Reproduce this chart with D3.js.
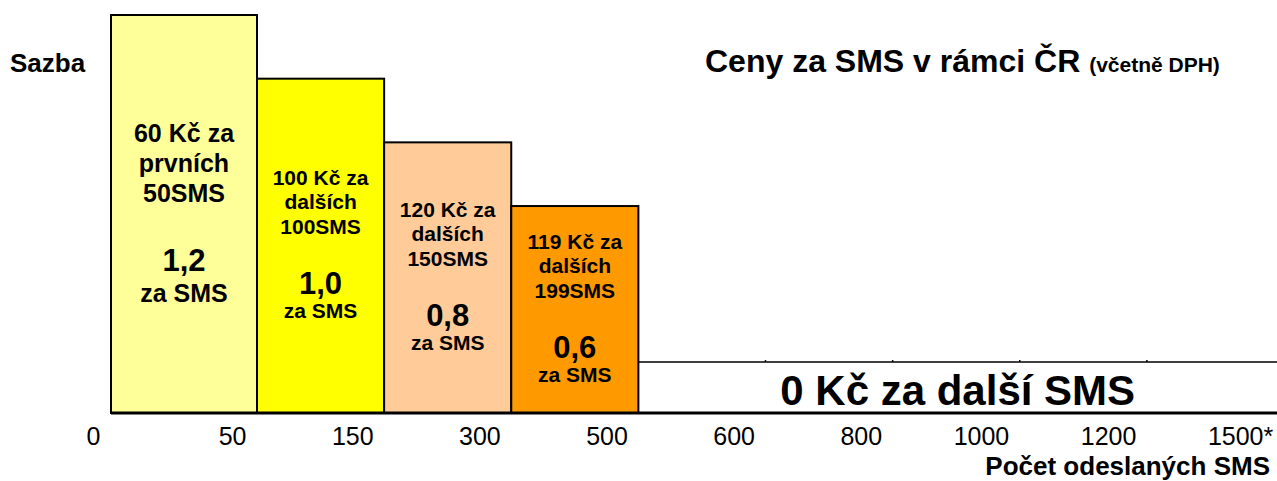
<!DOCTYPE html>
<html>
<head>
<meta charset="utf-8">
<script src="https://cdn.jsdelivr.net/npm/d3@7"></script>
<style>
  body { margin: 0; background: #fff; }
  svg { display: block; font-family: "Liberation Sans", Arial, sans-serif; }
</style>
</head>
<body>
<svg id="chart"></svg>
<script>
// data
const tickLabels = ["0", "50", "150", "300", "500", "600", "800", "1000", "1200", "1500*"];
const rates = [1.2, 1.0, 0.8, 0.6];
const rateLabels = ["1,2", "1,0", "0,8", "0,6"];
const priceLines = [
  ["60 Kč za", "prvních", "50SMS"],
  ["100 Kč za", "dalších", "100SMS"],
  ["120 Kč za", "dalších", "150SMS"],
  ["119 Kč za", "dalších", "199SMS"]
];
const barColors = ["#FFFF99", "#FFFF00", "#FFCC99", "#FF9900"];
const freeBand = 0.11; // visual height of the "0 Kč" band
const freeLabel = "0 Kč za další SMS";

const width = 1277, height = 481;
const svg = d3.select("#chart").attr("width", width).attr("height", height);

// first band is wider than the others
const x = d3.scaleLinear().domain([0, 1, 9]).range([111, 257, 1274]);
const y = d3.scaleLinear().domain([-0.05, 1.2]).range([413, 15]);

// tiered bars
const bars = svg.selectAll("g.tier")
  .data(rates)
  .enter()
  .append("g")
  .attr("class", "tier");

bars.append("rect")
  .attr("x", (d, i) => x(i))
  .attr("y", (d) => y(d))
  .attr("width", (d, i) => x(i + 1) - x(i))
  .attr("height", (d) => y(-0.05) - y(d))
  .attr("fill", (d, i) => barColors[i])
  .attr("stroke", "#000")
  .attr("stroke-width", 2);

// text inside bars, centred vertically in each bar
bars.each(function (d, i) {
  const g = d3.select(this);
  const cx = (x(i) + x(i + 1)) / 2;
  const cy = (y(d) + y(-0.05)) / 2;
  const big = i == 0;
  const fs = big ? 25 : 21;
  const offs = big ? [-72, -42, -12] : [-61, -37, -12];
  priceLines[i].forEach((t, k) => {
    g.append("text")
      .attr("x", cx)
      .attr("y", cy + offs[k])
      .attr("text-anchor", "middle")
      .attr("font-weight", "bold")
      .attr("font-size", fs)
      .text(t);
  });
  g.append("text")
    .attr("x", cx)
    .attr("y", cy + (big ? 57 : 48))
    .attr("text-anchor", "middle")
    .attr("font-weight", "bold")
    .attr("font-size", 31)
    .text(rateLabels[i]);
  g.append("text")
    .attr("x", cx)
    .attr("y", cy + (big ? 88 : 72))
    .attr("text-anchor", "middle")
    .attr("font-weight", "bold")
    .attr("font-size", fs)
    .text("za SMS");
});

// free band
svg.append("line")
  .attr("x1", x(4))
  .attr("x2", width)
  .attr("y1", y(freeBand))
  .attr("y2", y(freeBand))
  .attr("stroke", "#000")
  .attr("stroke-width", 1.5);

svg.selectAll("line.mini")
  .data(d3.range(5, 9))
  .enter()
  .append("line")
  .attr("class", "mini")
  .attr("x1", (d) => x(d))
  .attr("x2", (d) => x(d))
  .attr("y1", y(freeBand) - 2)
  .attr("y2", y(freeBand))
  .attr("stroke", "#000")
  .attr("stroke-width", 1.5);

svg.append("text")
  .attr("x", (x(4) + width) / 2)
  .attr("y", 405)
  .attr("text-anchor", "middle")
  .attr("font-weight", "bold")
  .attr("font-size", 42)
  .text(freeLabel);

// x axis
const xAxis = d3.axisBottom(x)
  .tickValues(d3.range(tickLabels.length))
  .tickFormat((i) => tickLabels[i].replace("*", ""))
  .tickSize(0);

const xAxisG = svg.append("g")
  .attr("transform", `translate(0,${y(-0.05)})`)
  .call(xAxis);

xAxisG.select(".domain")
  .attr("d", `M${x(0)},0H${width}`)
  .attr("stroke", "#000")
  .attr("stroke-width", 3);
xAxisG.selectAll(".tick text")
  .attr("y", 32)
  .attr("dy", 0)
  .attr("dx", -11)
  .attr("text-anchor", "end")
  .attr("font-size", 25)
  .attr("fill", "#000")
  .style("font-family", '"Liberation Sans", Arial, sans-serif');

xAxisG.selectAll(".tick")
  .filter((i) => tickLabels[i].endsWith("*"))
  .append("text")
  .attr("x", -11)
  .attr("y", 32)
  .attr("text-anchor", "start")
  .attr("font-size", 25)
  .attr("fill", "#000")
  .style("font-family", '"Liberation Sans", Arial, sans-serif')
  .text("*");

svg.append("text")
  .attr("x", 1270)
  .attr("y", 475)
  .attr("text-anchor", "end")
  .attr("font-weight", "bold")
  .attr("font-size", 26)
  .text("Počet odeslaných SMS");

// y label and title
svg.append("text")
  .attr("x", 10)
  .attr("y", 72)
  .attr("font-weight", "bold")
  .attr("font-size", 26)
  .text("Sazba");

const title = svg.append("text")
  .attr("x", 705)
  .attr("y", 72)
  .attr("font-weight", "bold")
  .attr("font-size", 32);
title.append("tspan").text("Ceny za SMS v rámci ČR ");
title.append("tspan").attr("font-size", 21).text("(včetně DPH)");
</script>
</body>
</html>
